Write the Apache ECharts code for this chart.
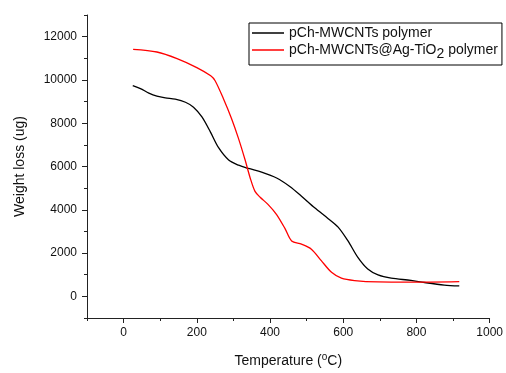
<!DOCTYPE html>
<html>
<head>
<meta charset="utf-8">
<script src="https://cdn.jsdelivr.net/npm/echarts@6/dist/echarts.min.js"></script>
<style>
  html, body { margin: 0; padding: 0; background: #fff; }
  #chart { width: 506px; height: 373px; }
</style>
</head>
<body>
<div id="chart"></div>
<script>
// series names
const seriesNames = ["pCh-MWCNTs polymer", "pCh-MWCNTs@Ag-TiO2 polymer"];

// black curve: temperature (°C) / weight (ug)
const blackTemp = [25, 46, 69, 91, 114, 141, 169, 191, 214, 237, 259, 287, 314, 341, 377, 418, 454, 486, 522, 559, 586, 613, 640, 667, 695, 731, 785, 822, 876, 917];
const blackWeight = [9740, 9600, 9390, 9250, 9170, 9110, 8970, 8740, 8290, 7600, 6880, 6300, 6060, 5910, 5740, 5470, 5080, 4630, 4090, 3590, 3200, 2560, 1800, 1260, 990, 840, 740, 640, 520, 480];

// red curve
const redTemp = [26, 91, 146, 200, 238, 250, 273, 295, 314, 332, 346, 359, 373, 395, 418, 441, 459, 486, 513, 540, 568, 595, 631, 695, 785, 917];
const redWeight = [11410, 11290, 10985, 10570, 10190, 9960, 9120, 8210, 7290, 6300, 5460, 4850, 4580, 4240, 3780, 3130, 2560, 2410, 2180, 1650, 1110, 840, 730, 665, 655, 680];

// major tick positions
const xMajor = [0, 200, 400, 600, 800, 1000];
const yMajor = [0, 2000, 4000, 6000, 8000, 10000, 12000];

const font = "Liberation Sans, Arial, sans-serif";
const axisColor = "#222";

const chart = echarts.init(document.getElementById("chart"));

const zip = (a, b) => a.map((v, i) => [v, b[i]]);

const option = {
  backgroundColor: "#fff",
  animation: false,
  textStyle: { fontFamily: font, color: "#111" },
  grid: { left: 87, right: 14, top: 15, bottom: 51, containLabel: false },
  legend: {
    left: 249,
    top: 23,
    orient: "vertical",
    itemWidth: 32,
    itemHeight: 1.5,
    itemGap: 3,
    padding: [3, 4, 4, 3],
    borderColor: "#000",
    borderWidth: 1,
    backgroundColor: "#fff",
    icon: "rect",
    data: seriesNames,
    formatter: (name) => name.replace("TiO2", "TiO{sub|2}"),
    textStyle: {
      fontFamily: font,
      fontSize: 14,
      color: "#111",
      rich: {
        sub: { fontSize: 14, fontFamily: font, color: "#111", padding: [8, 0, 0, 0] }
      }
    }
  },
  xAxis: [
    {
      type: "value",
      min: -100,
      max: 1000,
      interval: 100,
      splitLine: { show: false },
      axisLine: { onZero: false, lineStyle: { color: axisColor, width: 1 } },
      axisTick: { length: 3, lineStyle: { color: axisColor } },
      axisLabel: {
        margin: 9,
        fontSize: 12,
        color: "#111",
        fontFamily: font,
        formatter: (v) => (v % 200 === 0 ? String(v) : "")
      },
      name: "Temperature ({sup|o}C)",
      nameLocation: "middle",
      nameGap: 34,
      nameTextStyle: {
        fontSize: 14,
        fontFamily: font,
        color: "#111",
        rich: { sup: { fontSize: 10, fontFamily: font, color: "#111", padding: [0, 0, 8, 0] } }
      }
    },
    {
      type: "value",
      min: -100,
      max: 1000,
      position: "bottom",
      splitLine: { show: false },
      axisLine: { show: false, onZero: false },
      axisLabel: { show: false },
      axisTick: { show: true, customValues: xMajor, length: 5, lineStyle: { color: axisColor } }
    }
  ],
  yAxis: [
    {
      type: "value",
      min: -1000,
      max: 13000,
      interval: 1000,
      splitLine: { show: false },
      axisLine: { show: true, onZero: false, lineStyle: { color: axisColor, width: 1 } },
      axisTick: { show: true, length: 3, lineStyle: { color: axisColor } },
      axisLabel: {
        margin: 10,
        fontSize: 12,
        color: "#111",
        fontFamily: font,
        formatter: (v) => (v % 2000 === 0 ? String(v) : "")
      },
      name: "Weight loss (ug)",
      nameLocation: "middle",
      nameGap: 60,
      nameTextStyle: { fontSize: 14, fontFamily: font, color: "#111" }
    },
    {
      type: "value",
      min: -1000,
      max: 13000,
      position: "left",
      splitLine: { show: false },
      axisLine: { show: false, onZero: false },
      axisLabel: { show: false },
      axisTick: { show: true, customValues: yMajor, length: 5, lineStyle: { color: axisColor } }
    }
  ],
  series: [
    {
      name: seriesNames[0],
      type: "line",
      data: zip(blackTemp, blackWeight),
      smooth: 0.3,
      symbol: "none",
      lineStyle: { color: "#000", width: 1.3 },
      itemStyle: { color: "#000" }
    },
    {
      name: seriesNames[1],
      type: "line",
      data: zip(redTemp, redWeight),
      smooth: 0.3,
      symbol: "none",
      lineStyle: { color: "#ff0000", width: 1.3 },
      itemStyle: { color: "#ff0000" }
    }
  ]
};

chart.setOption(option);
</script>
</body>
</html>
